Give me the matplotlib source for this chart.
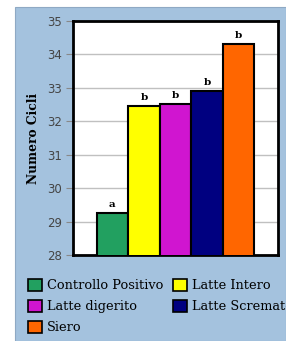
import matplotlib.pyplot as plt
from matplotlib.patches import Patch, Rectangle

categories = ["Controllo Positivo", "Latte Intero", "Latte digerito", "Latte Scremato", "Siero"]
values = [29.25, 32.45, 32.52, 32.9, 34.3]
letters = ["a", "b", "b", "b", "b"]
colors = ["#22a060", "#ffff00", "#d015d0", "#000080", "#ff6600"]
yticks = [28, 29, 30, 31, 32, 33, 34, 35]

W, H = 286, 341
fig = plt.figure(figsize=(W / 100, H / 100), dpi=100)
fig.patch.set_facecolor("white")

# blue panel behind everything
fig.patches.append(Rectangle((15 / W, 0), 1 - 15 / W, 1 - 7 / H,
                             transform=fig.transFigure, facecolor="#a4c2de",
                             edgecolor="#8fa9c4", linewidth=0.8, zorder=-5))

ax = fig.add_axes([73 / W, 1 - 255 / H, (278 - 73) / W, (255 - 21) / H])
ax.set_zorder(2)
ax.set_facecolor("white")

x = range(len(values))
ax.bar(x, values, width=1.0, bottom=0, color=colors, edgecolor="black",
       linewidth=1.5, zorder=3)
for i, (v, t) in enumerate(zip(values, letters)):
  ax.text(i, v + 0.12, t, ha="center", va="bottom", family="DejaVu Serif",
          fontweight="bold", fontsize=7.5, zorder=4)

ax.set_ylim(28, 35)
ax.set_xlim(-1.25, len(values) - 1 + 1.25)
ax.set_yticks(yticks)
ax.set_yticklabels([str(t) for t in yticks], family="DejaVu Sans",
                   fontsize=8.5, color="#444444")
ax.set_xticks([])
ax.tick_params(axis="y", direction="out", length=5, width=0.8,
               color="#888888", pad=3)
ax.grid(True, axis="y", color="#c0c0c0", linewidth=1, zorder=1)
for s in ax.spines.values():
  s.set_linewidth(2)
  s.set_color("black")
ax.set_ylabel("Numero Cicli", family="DejaVu Serif", fontweight="bold",
              fontsize=8.8, labelpad=5)

# legend, filled column-first
handles = [Patch(facecolor=c, edgecolor="black", linewidth=1.2) for c in colors]
order = [0, 2, 4, 1, 3]
fig.legend([handles[i] for i in order], [categories[i] for i in order],
           loc="upper left", bbox_to_anchor=(28 / W, 1 - 279 / H), ncol=2,
           frameon=False, prop={"family": "DejaVu Serif", "size": 9.3},
           handlelength=1.05, handleheight=1.05, handletextpad=0.4,
           columnspacing=0.8, labelspacing=0.58, borderpad=0, borderaxespad=0)

fig.savefig("out.png", dpi=100)
